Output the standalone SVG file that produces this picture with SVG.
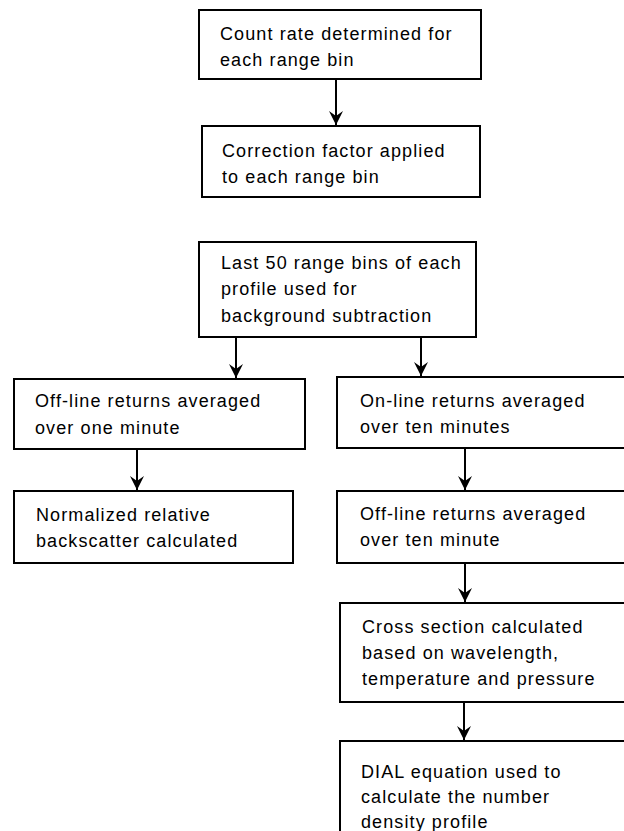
<svg xmlns="http://www.w3.org/2000/svg" width="624" height="831" viewBox="0 0 624 831">
<style>
.box{fill:#fff;stroke:#000;stroke-width:2}
.t{font-family:"Liberation Sans",Arial,sans-serif;font-size:18px;letter-spacing:1.1px;fill:#000}
.c{stroke:#000;stroke-width:2;fill:none}
</style>
<defs>
<marker id="ah" markerUnits="userSpaceOnUse" markerWidth="16" markerHeight="16" viewBox="-14 -8 16 16" refX="0" refY="0" orient="auto">
<path d="M0,0 L-14,-7 L-9,0 L-14,7 Z" fill="#000"/>
</marker>
</defs>
<rect width="624" height="831" fill="#fff"/>
<g id="connectors">
<line class="c" x1="336" y1="79" x2="336" y2="125" marker-end="url(#ah)"/>
<line class="c" x1="236" y1="337" x2="236" y2="378" marker-end="url(#ah)"/>
<line class="c" x1="421" y1="337" x2="421" y2="376" marker-end="url(#ah)"/>
<line class="c" x1="137" y1="449" x2="137" y2="490" marker-end="url(#ah)"/>
<line class="c" x1="465" y1="448" x2="465" y2="490" marker-end="url(#ah)"/>
<line class="c" x1="465" y1="563" x2="465" y2="602" marker-end="url(#ah)"/>
<line class="c" x1="464" y1="702" x2="464" y2="740" marker-end="url(#ah)"/>
</g>
<g id="n1"><rect class="box" x="199" y="10" width="282" height="69"/>
<text class="t" x="220" y="40">Count rate determined for</text>
<text class="t" x="220" y="66">each range bin</text></g>
<g id="n2"><rect class="box" x="202" y="126" width="278" height="71"/>
<text class="t" x="222" y="157">Correction factor applied</text>
<text class="t" x="222" y="183">to each range bin</text></g>
<g id="n3"><rect class="box" x="199" y="242" width="277" height="95"/>
<text class="t" x="221" y="269">Last 50 range bins of each</text>
<text class="t" x="221" y="295">profile used for</text>
<text class="t" x="221" y="322">background subtraction</text></g>
<g id="n4"><rect class="box" x="14" y="379" width="291" height="70"/>
<text class="t" x="35" y="407">Off-line returns averaged</text>
<text class="t" x="35" y="434">over one minute</text></g>
<g id="n5"><rect class="box" x="14" y="491" width="279" height="72"/>
<text class="t" x="36" y="521">Normalized relative</text>
<text class="t" x="36" y="547">backscatter calculated</text></g>
<g id="n6"><rect class="box" x="337" y="377" width="300" height="71"/>
<text class="t" x="360" y="407">On-line returns averaged</text>
<text class="t" x="360" y="433">over ten minutes</text></g>
<g id="n7"><rect class="box" x="337" y="491" width="300" height="72"/>
<text class="t" x="360" y="520">Off-line returns averaged</text>
<text class="t" x="360" y="546">over ten minute</text></g>
<g id="n8"><rect class="box" x="340" y="603" width="300" height="99"/>
<text class="t" x="362" y="633">Cross section calculated</text>
<text class="t" x="362" y="659">based on wavelength,</text>
<text class="t" x="362" y="685">temperature and pressure</text></g>
<g id="n9"><rect class="box" x="340" y="741" width="300" height="110"/>
<text class="t" x="361" y="778">DIAL equation used to</text>
<text class="t" x="361" y="803">calculate the number</text>
<text class="t" x="361" y="828">density profile</text></g>
</svg>
